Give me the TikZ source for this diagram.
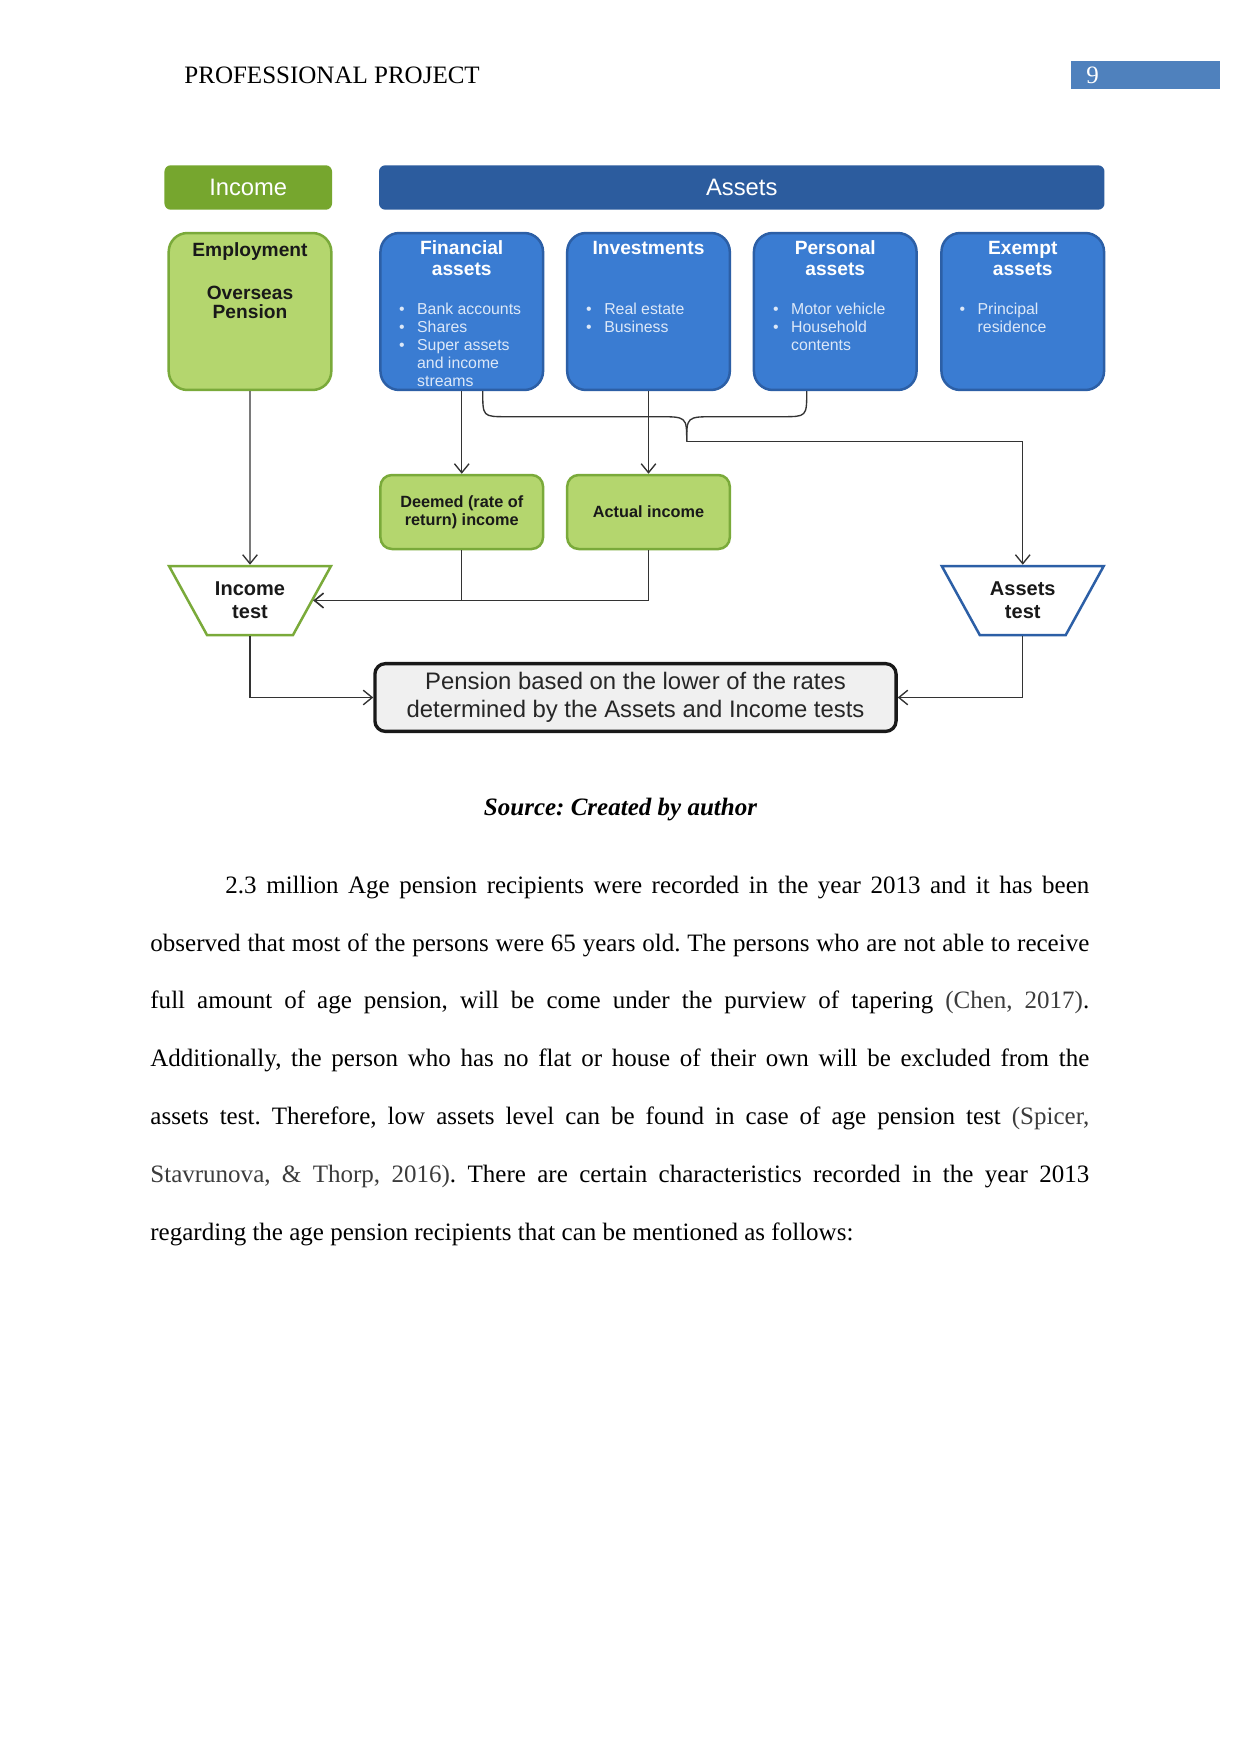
\documentclass[tikz,border=0pt]{standalone}
\usepackage{fontspec}
\setmainfont{Liberation Serif}
\newfontfamily\chartfont{Liberation Sans}
\usepackage{xcolor}
\usepackage{tikz}
\usetikzlibrary{arrows.meta, calc, shapes.geometric}
\frenchspacing
\definecolor{hdrgreen}{RGB}{118,166,46}
\definecolor{hdrblue}{RGB}{44,92,158}
\definecolor{boxgreen}{RGB}{180,214,110}
\definecolor{edgegreen}{RGB}{122,170,58}
\definecolor{boxblue}{RGB}{58,124,210}
\definecolor{edgeblue}{RGB}{44,95,166}
\definecolor{pagenum}{RGB}{79,129,189}
\definecolor{citegray}{RGB}{60,60,60}
\definecolor{bullettext}{RGB}{220,232,248}

\tikzset{
  hdr/.style={rounded corners=3pt, minimum height=21.3pt, inner sep=0pt, text=white,
    font=\chartfont\fontsize{11.4}{13}\selectfont},
  srcbox/.style={rounded corners=9pt, line width=1.2pt, minimum width=78pt, minimum height=75.3pt},
  greenbox/.style={srcbox, fill=boxgreen, draw=edgegreen},
  bluebox/.style={srcbox, fill=boxblue, draw=edgeblue},
  ttl/.style={anchor=base, inner sep=0pt, font=\chartfont\bfseries\fontsize{9.2}{10.4}\selectfont},
  blist/.style={anchor=base west, inner sep=0pt, text=bullettext,
    font=\chartfont\fontsize{7.6}{8.7}\selectfont},
  incbox/.style={rounded corners=5.5pt, line width=1.2pt, fill=boxgreen, draw=edgegreen,
    minimum width=78pt, minimum height=35.5pt, align=center, text=black!90,
    font=\chartfont\bfseries\fontsize{7.8}{8.8}\selectfont},
  testbox/.style={trapezium, trapezium angle=44, shape border rotate=180,
    trapezium stretches body=true, minimum width=77.7pt, minimum height=33.1pt,
    inner sep=0pt, line width=1.2pt, fill=white, align=center, text=black!90,
    font=\chartfont\bfseries\fontsize{9.6}{10.9}\selectfont},
  final/.style={rounded corners=5pt, line width=1.6pt, draw=black!90, fill=black!6,
    minimum width=250pt, minimum height=32.5pt, align=center, text=black!85,
    font=\chartfont\fontsize{11.45}{13.4}\selectfont},
  link/.style={draw=black!80, line width=0.65pt},
  arr/.style={-{Straight Barb[length=4.3pt,width=7pt]}},
  pagetext/.style={inner sep=0pt, font=\fontsize{12}{14}\selectfont}
}

\begin{document}
\begin{tikzpicture}[x=0.4797pt, y=-0.4797pt]
\fill[white] (0,0) rectangle (1241,1754);
\useasboundingbox (0,0) rectangle (1241,1754);

% running head
\node[pagetext, anchor=base west] (runhead) at (184,83.3) {PROFESSIONAL PROJECT};
\node[fill=pagenum, minimum width=71.5pt, minimum height=13.7pt, inner sep=0pt] (pgbox) at (1145.5,74.8) {};
\node[pagetext, anchor=base west, text=white] (pgno) at (1086,83.3) {9};

% category headers
\node[hdr, fill=hdrgreen, minimum width=80.4pt] (inchdr) at (248.25,187.5) {Income};
\node[hdr, fill=hdrblue, minimum width=348pt] (asshdr) at (741.75,187.5) {Assets};

% source boxes
\node[greenbox] (emp) at (250,311.5) {};
\node[bluebox] (fin) at (461.75,311.5) {};
\node[bluebox] (inv) at (648.5,311.5) {};
\node[bluebox] (per) at (835.25,311.5) {};
\node[bluebox] (exm) at (1022.75,311.5) {};

\node[ttl, text=black!90] (emp-t) at (250,256) {Employment};
\node[ttl, text=black!90] (emp-s) at (250,299.5) {\begin{tabular}[t]{@{}c@{}}Overseas\\[-1.2pt]Pension\end{tabular}};
\node[ttl, text=white] (fin-t) at (461.75,254.3) {\begin{tabular}[t]{@{}c@{}}Financial\\assets\end{tabular}};
\node[ttl, text=white] (inv-t) at (648.5,254.3) {Investments};
\node[ttl, text=white] (per-t) at (835.25,254.3) {\begin{tabular}[t]{@{}c@{}}Personal\\assets\end{tabular}};
\node[ttl, text=white] (exm-t) at (1022.75,254.3) {\begin{tabular}[t]{@{}c@{}}Exempt\\assets\end{tabular}};

\node[blist] (fin-l) at (398.7,314) {\begin{tabular}[t]{@{}l@{\hspace{6pt}}l@{}}
  \textbullet & Bank accounts\\ \textbullet & Shares\\ \textbullet & Super assets\\ & and income\\ & streams\end{tabular}};
\node[blist] (inv-l) at (585.8,314) {\begin{tabular}[t]{@{}l@{\hspace{6pt}}l@{}}
  \textbullet & Real estate\\ \textbullet & Business\end{tabular}};
\node[blist] (per-l) at (772.7,314) {\begin{tabular}[t]{@{}l@{\hspace{6pt}}l@{}}
  \textbullet & Motor vehicle\\ \textbullet & Household\\ & contents\end{tabular}};
\node[blist] (exm-l) at (959.2,314) {\begin{tabular}[t]{@{}l@{\hspace{6pt}}l@{}}
  \textbullet & Principal\\ & residence\end{tabular}};

% income kinds and tests
\node[incbox] (dee) at (461.75,512) {Deemed (rate of\\return) income};
\node[incbox] (act) at (648.5,512) {Actual income};
\node[testbox, draw=edgegreen] (inctest) at (250,600.5) {Income\\test};
\node[testbox, draw=edgeblue] (asstest) at (1022.75,600.5) {Assets\\test};
\node[final] (pen) at (635.5,697.5) {Pension based on the lower of the rates\\determined by the Assets and Income tests};

% connectors
\draw[link, arr] (emp.south) -- (inctest.north);
\draw[link, arr] (fin.south) -- (dee.north);
\draw[link, arr] (inv.south) -- (act.north);
\draw[link, arr] (dee.south) |- (inctest.east);
\draw[link, arr] (act.south) |- (inctest.east);
\draw[link, arr] (inctest.south) |- (pen.west);
\draw[link, arr] (asstest.south) |- (pen.east);

% brace joining financial and personal assets
\coordinate (brtip) at (686.7,441.7);
\draw[link] ($(fin.south)+(21,0)$) .. controls (482.7,416.7) .. (507,416.7) -- (658,416.7)
  .. controls (686.7,416.7) .. (brtip);
\draw[link] ($(per.south)+(-28.5,0)$) .. controls (806.7,416.7) .. (782,416.7) -- (715,416.7)
  .. controls (686.7,416.7) .. (brtip);
\draw[link, arr] (brtip) -| (asstest.north);

% caption and body text
\node[pagetext, anchor=base, font=\fontsize{12}{14}\selectfont\bfseries\itshape] (src) at (620.5,815) {Source: Created by author};
\node[pagetext, anchor=base west] (body) at (150,893.3) {\begin{minipage}[t]{450.4pt}
\fontsize{12}{27.72}\selectfont\setlength{\parindent}{36pt}\hyphenpenalty=10000
2.3 million Age pension recipients were recorded in the year 2013 and it has been\linebreak
observed that most of the persons were 65 years old. The persons who are not able to receive\linebreak
full amount of age pension, will be come under the purview of tapering {\color{citegray}(Chen, 2017)}.\linebreak
Additionally, the person who has no flat or house of their own will be excluded from the\linebreak
assets test. Therefore, low assets level can be found in case of age pension test {\color{citegray}(Spicer,\linebreak
Stavrunova, \& Thorp, 2016)}. There are certain characteristics recorded in the year 2013\linebreak
regarding the age pension recipients that can be mentioned as follows:
\end{minipage}};
\end{tikzpicture}
\end{document}
